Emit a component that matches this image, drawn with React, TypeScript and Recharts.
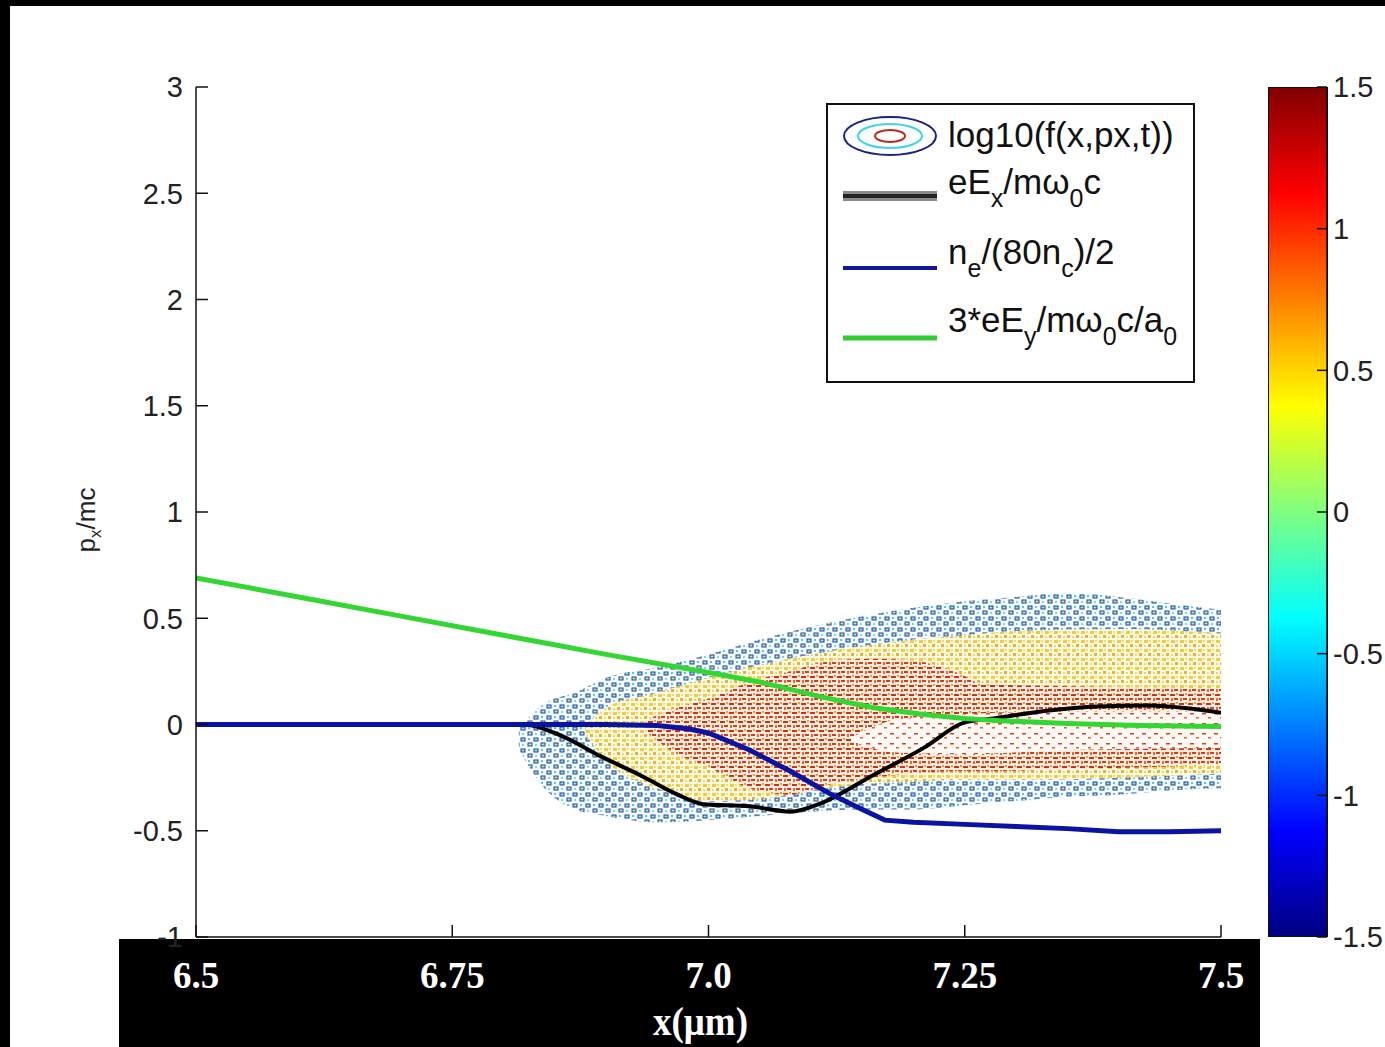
import React from "react";
import {
  Area,
  ComposedChart,
  Legend,
  Line,
  XAxis,
  YAxis,
} from "recharts";

const X_TICKS = [6.5, 6.75, 7.0, 7.25, 7.5];
const X_TICK_LABELS = ["6.5", "6.75", "7.0", "7.25", "7.5"];
const Y_TICKS = [-1, -0.5, 0, 0.5, 1, 1.5, 2, 2.5, 3];
const CBAR_TICKS = [-1.5, -1, -0.5, 0, 0.5, 1, 1.5];
const CBAR_RANGE = [-1.5, 1.5];

// eEx/mw0c (black)
const exX = [6.5, 6.82, 6.855, 6.895, 6.934, 6.97, 6.995, 7.04, 7.08, 7.11, 7.16, 7.21, 7.25, 7.28, 7.33, 7.38, 7.43, 7.47, 7.5];
const exY = [0, 0, -0.05, -0.15, -0.24, -0.33, -0.375, -0.385, -0.41, -0.37, -0.24, -0.11, 0.01, 0.03, 0.065, 0.085, 0.09, 0.075, 0.055];

// ne/(80nc)/2 (blue)
const neX = [6.5, 6.9, 6.95, 6.98, 7.0, 7.04, 7.08, 7.12, 7.15, 7.172, 7.2, 7.25, 7.3, 7.35, 7.4, 7.45, 7.5];
const neY = [0, 0, -0.005, -0.02, -0.04, -0.12, -0.22, -0.33, -0.4, -0.45, -0.46, -0.47, -0.48, -0.49, -0.505, -0.505, -0.5];

// 3*eEy/mw0c/a0 (green)
const eyX = [6.5, 6.6, 6.7, 6.8, 6.9, 7.0, 7.05, 7.11, 7.16, 7.21, 7.25, 7.28, 7.35, 7.42, 7.5];
const eyY = [0.69, 0.6, 0.51, 0.42, 0.33, 0.245, 0.2, 0.13, 0.08, 0.047, 0.028, 0.019, 0.005, -0.005, -0.01];

// log10(f) contour envelopes
const outerX = [6.815, 6.84, 6.87, 6.9, 6.95, 7.0, 7.05, 7.1, 7.15, 7.2, 7.25, 7.3, 7.35, 7.4, 7.45, 7.5];
const outerLo = [-0.12, -0.3, -0.4, -0.43, -0.46, -0.45, -0.43, -0.41, -0.4, -0.4, -0.38, -0.36, -0.34, -0.33, -0.31, -0.3];
const outerHi = [-0.02, 0.1, 0.15, 0.22, 0.27, 0.33, 0.4, 0.46, 0.51, 0.55, 0.58, 0.6, 0.62, 0.6, 0.57, 0.54];

const yellowX = [6.88, 6.9, 6.95, 7.0, 7.05, 7.1, 7.15, 7.2, 7.25, 7.3, 7.4, 7.5];
const yellowLo = [-0.05, -0.17, -0.3, -0.36, -0.35, -0.31, -0.28, -0.27, -0.26, -0.26, -0.25, -0.23];
const yellowHi = [0.0, 0.08, 0.15, 0.22, 0.28, 0.33, 0.37, 0.4, 0.42, 0.44, 0.45, 0.43];

const redX = [6.94, 6.97, 7.0, 7.04, 7.08, 7.12, 7.16, 7.2, 7.24, 7.27, 7.35, 7.5];
const redLo = [-0.04, -0.14, -0.2, -0.3, -0.33, -0.28, -0.25, -0.23, -0.22, -0.22, -0.21, -0.19];
const redHi = [0.02, 0.08, 0.12, 0.2, 0.25, 0.3, 0.31, 0.3, 0.25, 0.19, 0.18, 0.17];

const innerX = [7.14, 7.18, 7.25, 7.35, 7.5];
const innerLo = [-0.08, -0.13, -0.14, -0.12, -0.11];
const innerHi = [-0.06, 0.02, 0.05, 0.06, 0.06];

const line = (xs: number[], ys: number[]) => xs.map((x, i) => ({ x, y: ys[i] }));
const band = (xs: number[], lo: number[], hi: number[]) =>
  xs.map((x, i) => ({ x, r: [lo[i], hi[i]] }));

const SANS = "'Liberation Sans', Arial, Helvetica, sans-serif";
const SERIF = "'Liberation Serif', 'Times New Roman', serif";

function XTick({ x, y, payload }: any) {
  const i = X_TICKS.indexOf(payload.value);
  return (
    <text
      x={x}
      y={y + 63}
      textAnchor="middle"
      fill="#fff"
      fontFamily={SERIF}
      fontWeight="bold"
      fontSize={37}
    >
      {X_TICK_LABELS[i]}
    </text>
  );
}

function XLabel({ viewBox }: any) {
  const cx = viewBox.x + viewBox.width / 2 - 8;
  return (
    <text
      transform={`translate(${cx},${viewBox.y + 98}) scale(1,1.1)`}
      textAnchor="middle"
      fill="#fff"
      fontFamily={SERIF}
      fontWeight="bold"
      fontSize={37}
    >
      x(μm)
    </text>
  );
}

function YLabel({ viewBox }: any) {
  const cx = viewBox.x - 1;
  const cy = viewBox.y + viewBox.height / 2 + 8;
  return (
    <text
      transform={`translate(${cx},${cy}) rotate(-90)`}
      textAnchor="middle"
      fill="#222"
      fontFamily={SANS}
      fontSize={26}
    >
      p
      <tspan fontSize={17} dy={6}>
        x
      </tspan>
      <tspan dy={-6}>/mc</tspan>
    </text>
  );
}

function LegendBox() {
  const sub = (t: string) => (
    <tspan fontSize={25} dy={13}>
      {t}
    </tspan>
  );
  const up = (t: string) => <tspan dy={-13}>{t}</tspan>;
  return (
    <svg width={370} height={281} style={{ display: "block" }}>
      <rect x={1} y={1} width={367} height={278} fill="#fff" stroke="#111" strokeWidth={2} />
      <ellipse cx={64} cy={33} rx={46} ry={19} fill="#fff" stroke="#1a237e" strokeWidth={2} />
      <ellipse cx={64} cy={33} rx={32} ry={12} fill="#fff" stroke="#3fd3e6" strokeWidth={2} />
      <ellipse cx={64} cy={33} rx={15} ry={6} fill="#fff" stroke="#b0301c" strokeWidth={2} />
      <line x1={17} x2={111} y1={93} y2={93} stroke="#8a8a8a" strokeWidth={10} />
      <line x1={17} x2={111} y1={93} y2={93} stroke="#222" strokeWidth={4} />
      <line x1={17} x2={111} y1={165} y2={165} stroke="#1018a0" strokeWidth={4} />
      <line x1={17} x2={111} y1={235} y2={235} stroke="#33cc33" strokeWidth={5} />
      <g fontFamily={SANS} fontSize={35} fill="#111">
        <text x={122} y={44}>log10(f(x,px,t))</text>
        <text x={122} y={91}>
          eE{sub("x")}
          {up("/mω")}
          {sub("0")}
          {up("c")}
        </text>
        <text x={122} y={161}>
          n{sub("e")}
          {up("/(80n")}
          {sub("c")}
          {up(")/2")}
        </text>
        <text x={122} y={229}>
          3*eE{sub("y")}
          {up("/mω")}
          {sub("0")}
          {up("c/a")}
          {sub("0")}
        </text>
      </g>
    </svg>
  );
}

function MainChart() {
  return (
    <ComposedChart
      width={1385}
      height={1047}
      margin={{ top: 87, right: 164, bottom: 0, left: 96 }}
    >
      <defs>
        <pattern id="pBlue" width={13} height={11} patternUnits="userSpaceOnUse">
          <rect width={13} height={11} fill="#f4fcfc" />
          <rect x={1} y={1} width={4} height={3} fill="#8ee8e4" stroke="#283c9c" strokeWidth={1} />
          <rect x={8} y={6} width={4} height={3} fill="#b4eeb6" stroke="#283c9c" strokeWidth={1} />
          <rect x={8} y={1} width={2} height={2} fill="#58c0ec" />
          <rect x={2} y={7} width={2} height={2} fill="#78d8ec" />
        </pattern>
        <pattern id="pYellow" width={9} height={9} patternUnits="userSpaceOnUse">
          <rect width={9} height={9} fill="#fffae4" />
          <rect x={1} y={1} width={4} height={3} fill="#f2cc40" />
          <rect x={5} y={5} width={3} height={3} fill="#eab040" />
          <rect x={1} y={6} width={2} height={2} fill="#d8e070" />
          <rect x={6} y={1} width={2} height={2} fill="#f5dc60" />
        </pattern>
        <pattern id="pRed" width={9} height={9} patternUnits="userSpaceOnUse">
          <rect width={9} height={9} fill="#fdeee2" />
          <rect x={0} y={1} width={5} height={2} fill="#d03018" />
          <rect x={4} y={5} width={4} height={2} fill="#d83a1a" />
          <rect x={1} y={5} width={2} height={3} fill="#e0683a" />
          <rect x={6} y={0} width={2} height={2} fill="#eea030" />
        </pattern>
        <pattern id="pInner" width={12} height={10} patternUnits="userSpaceOnUse">
          <rect width={12} height={10} fill="#fffaf6" />
          <rect x={2} y={3} width={4} height={1.5} fill="#d84020" />
          <rect x={8} y={7} width={3} height={1.5} fill="#e06030" />
        </pattern>
      </defs>
      <XAxis
        dataKey="x"
        type="number"
        domain={[6.5, 7.5]}
        ticks={X_TICKS}
        allowDataOverflow
        height={110}
        tickSize={-12}
        tickMargin={0}
        tick={<XTick />}
        axisLine={{ stroke: "#111", strokeWidth: 1.5 }}
        tickLine={{ stroke: "#111", strokeWidth: 1.5 }}
        label={<XLabel />}
      />
      <YAxis
        type="number"
        domain={[-1, 3]}
        ticks={Y_TICKS}
        allowDataOverflow
        width={100}
        tickSize={-12}
        tickMargin={25}
        tick={{ fill: "#222", fontSize: 29, fontFamily: SANS }}
        axisLine={{ stroke: "#111", strokeWidth: 1.5 }}
        tickLine={{ stroke: "#111", strokeWidth: 1.5 }}
        label={<YLabel />}
      />
      <Area data={band(outerX, outerLo, outerHi)} dataKey="r" type="monotone" stroke="none" fill="url(#pBlue)" fillOpacity={1} isAnimationActive={false} />
      <Area data={band(yellowX, yellowLo, yellowHi)} dataKey="r" type="monotone" stroke="none" fill="url(#pYellow)" fillOpacity={1} isAnimationActive={false} />
      <Area data={band(redX, redLo, redHi)} dataKey="r" type="monotone" stroke="none" fill="url(#pRed)" fillOpacity={1} isAnimationActive={false} />
      <Area data={band(innerX, innerLo, innerHi)} dataKey="r" type="monotone" stroke="none" fill="url(#pInner)" fillOpacity={1} isAnimationActive={false} />
      <Line data={line(exX, exY)} dataKey="y" type="monotone" stroke="#000" strokeWidth={4} dot={false} isAnimationActive={false} />
      <Line data={line(neX, neY)} dataKey="y" type="linear" stroke="#0a14a0" strokeWidth={5} dot={false} isAnimationActive={false} />
      <Line data={line(eyX, eyY)} dataKey="y" type="linear" stroke="#33d633" strokeWidth={5} dot={false} isAnimationActive={false} />
      <Legend
        layout="vertical"
        align="center"
        verticalAlign="middle"
        content={() => <LegendBox />}
        wrapperStyle={{ position: "absolute", left: 826, top: 103, width: 370, height: 281 }}
      />
    </ComposedChart>
  );
}

const cbarData = [
  { x: 0, r: CBAR_RANGE },
  { x: 1, r: CBAR_RANGE },
];

function ColorBar() {
  return (
    <ComposedChart
      width={117}
      height={1047}
      data={cbarData}
      margin={{ top: 87, right: 0, bottom: 110, left: 0 }}
    >
      <defs>
        <linearGradient id="jet" x1="0" y1="0" x2="0" y2="1">
          <stop offset="0%" stopColor="#800000" />
          <stop offset="12.5%" stopColor="#ff0000" />
          <stop offset="37.5%" stopColor="#ffff00" />
          <stop offset="62.5%" stopColor="#00ffff" />
          <stop offset="87.5%" stopColor="#0000ff" />
          <stop offset="100%" stopColor="#000080" />
        </linearGradient>
      </defs>
      <XAxis dataKey="x" type="number" domain={[0, 1]} hide />
      <YAxis
        yAxisId="l"
        orientation="left"
        type="number"
        domain={CBAR_RANGE}
        ticks={CBAR_TICKS}
        width={1}
        tickSize={-10}
        tick={false}
        axisLine={false}
        tickLine={{ stroke: "#111", strokeWidth: 1.5 }}
      />
      <Area
        yAxisId="r"
        dataKey="r"
        type="linear"
        fill="url(#jet)"
        fillOpacity={1}
        stroke="none"
        isAnimationActive={false}
      />
      <YAxis
        yAxisId="r"
        orientation="right"
        type="number"
        domain={CBAR_RANGE}
        ticks={CBAR_TICKS}
        width={57}
        tickSize={-10}
        tickMargin={16}
        tick={{ fill: "#222", fontSize: 29, fontFamily: SANS, textAnchor: "start" }}
        axisLine={{ stroke: "#111", strokeWidth: 1.5 }}
        tickLine={{ stroke: "#111", strokeWidth: 1.5 }}
      />
    </ComposedChart>
  );
}

export default function App() {
  return (
    <div style={{ position: "absolute", left: 0, top: 0, width: 1385, height: 1047, background: "#fff", overflow: "hidden" }}>
      <div style={{ position: "absolute", left: 0, top: 0, width: 1385, height: 6, background: "#000" }} />
      <div style={{ position: "absolute", left: 0, top: 0, width: 10, height: 1047, background: "#000" }} />
      <div style={{ position: "absolute", left: 119, top: 939, width: 1141, height: 108, background: "#000" }} />
      <div style={{ position: "absolute", left: 0, top: 0 }}>
        <MainChart />
      </div>
      <div style={{ position: "absolute", left: 1267, top: 0 }}>
        <div style={{ position: "absolute", left: 1, top: 87, width: 60, height: 850, border: "1.5px solid #111", boxSizing: "border-box", pointerEvents: "none", zIndex: 2 }} />
        <ColorBar />
      </div>
    </div>
  );
}
